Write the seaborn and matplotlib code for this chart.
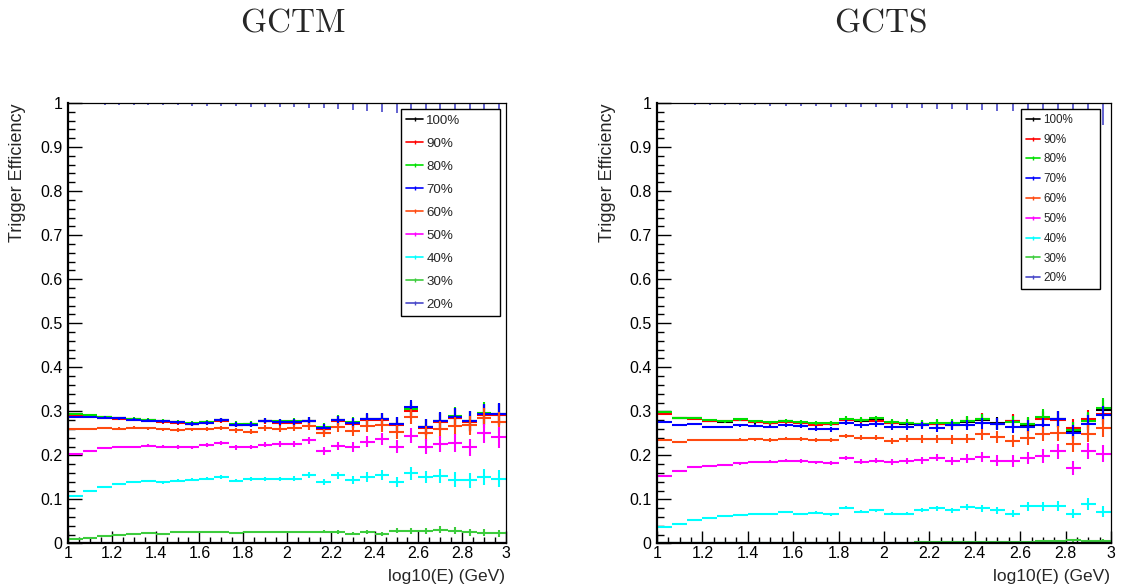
import matplotlib
matplotlib.use("Agg")
import matplotlib.pyplot as plt
import numpy as np
import seaborn as sns
from matplotlib.lines import Line2D
from matplotlib.ticker import MultipleLocator, FuncFormatter

sns.set_theme(style="white")
plt.rcParams["font.family"] = ["Liberation Sans", "DejaVu Sans"]
plt.rcParams["mathtext.fontset"] = "cm"

# binning of log10(E)
e_lo, e_hi, n_bins = 1.0, 3.0, 30

labels = ["100%", "90%", "80%", "70%", "60%", "50%", "40%", "30%", "20%"]
colors = ["#000000", "#ff0000", "#00e000", "#0000ff", "#ff4a10",
          "#ff00ff", "#00ffff", "#3ccc3c", "#4848c8"]

# GCTM efficiencies per bin
gctm_100 = [0.292, 0.290, 0.287, 0.284, 0.282, 0.280, 0.277, 0.275, 0.272, 0.275, 0.280, 0.270, 0.271, 0.278, 0.275,
            0.275, 0.278, 0.261, 0.280, 0.274, 0.282, 0.282, 0.271, 0.303, 0.264, 0.277, 0.286, 0.278, 0.294, 0.293]
gctm_90 = [0.290, 0.289, 0.286, 0.283, 0.281, 0.279, 0.276, 0.274, 0.271, 0.274, 0.279, 0.269, 0.270, 0.277, 0.274,
           0.274, 0.277, 0.260, 0.279, 0.272, 0.281, 0.281, 0.270, 0.300, 0.262, 0.276, 0.285, 0.276, 0.292, 0.291]
gctm_80 = [0.295, 0.292, 0.288, 0.285, 0.283, 0.281, 0.278, 0.276, 0.274, 0.276, 0.281, 0.272, 0.272, 0.279, 0.277,
           0.277, 0.279, 0.264, 0.281, 0.275, 0.283, 0.283, 0.272, 0.305, 0.265, 0.279, 0.289, 0.279, 0.297, 0.295]
gctm_70 = [0.287, 0.288, 0.286, 0.284, 0.281, 0.279, 0.277, 0.275, 0.272, 0.274, 0.281, 0.270, 0.270, 0.279, 0.275,
           0.276, 0.279, 0.262, 0.280, 0.274, 0.283, 0.282, 0.271, 0.309, 0.264, 0.278, 0.287, 0.278, 0.293, 0.294]
gctm_60 = [0.259, 0.260, 0.262, 0.261, 0.263, 0.262, 0.259, 0.258, 0.259, 0.260, 0.262, 0.257, 0.254, 0.262, 0.260,
           0.262, 0.266, 0.250, 0.264, 0.256, 0.267, 0.268, 0.253, 0.288, 0.250, 0.259, 0.266, 0.268, 0.285, 0.275]
gctm_50 = [0.203, 0.211, 0.216, 0.219, 0.219, 0.222, 0.220, 0.219, 0.218, 0.224, 0.229, 0.218, 0.219, 0.224, 0.226,
           0.225, 0.234, 0.210, 0.222, 0.219, 0.231, 0.238, 0.220, 0.245, 0.220, 0.226, 0.228, 0.218, 0.250, 0.241]
gctm_40 = [0.108, 0.119, 0.129, 0.135, 0.139, 0.142, 0.139, 0.143, 0.145, 0.147, 0.151, 0.143, 0.146, 0.146, 0.146,
           0.147, 0.156, 0.139, 0.155, 0.144, 0.151, 0.156, 0.139, 0.159, 0.151, 0.154, 0.145, 0.144, 0.150, 0.147]
gctm_30 = [0.010, 0.013, 0.017, 0.020, 0.022, 0.023, 0.022, 0.025, 0.026, 0.026, 0.027, 0.023, 0.026, 0.026, 0.027,
           0.026, 0.026, 0.027, 0.026, 0.022, 0.025, 0.022, 0.029, 0.028, 0.029, 0.031, 0.029, 0.025, 0.024, 0.023]
gctm_20 = [0.000, 0.000, 0.000, 0.000, 0.000, 0.000, 0.000, 0.000, 0.000, 0.000, 0.000, 0.000, 0.000, 0.000, 0.000,
           0.000, 0.000, 0.000, 0.000, 0.000, 0.000, 0.000, 0.000, 0.000, 0.000, 0.000, 0.000, 0.000, 0.002, 0.000]
gctm_counts = [60000, 45000, 35000, 28000, 22000, 18000, 15000, 12500, 10500, 9000, 8000, 7000, 6000, 5200, 4500,
               3800, 3000, 2300, 1900, 1500, 1200, 1000, 850, 700, 600, 520, 460, 420, 380, 340]
gctm_top = [0.003, 0.003, 0.004, 0.004, 0.004, 0.005, 0.005, 0.005, 0.006, 0.006, 0.007, 0.007, 0.008, 0.008, 0.009,
            0.010, 0.011, 0.012, 0.014, 0.016, 0.018, 0.020, 0.022, 0.024, 0.026, 0.028, 0.030, 0.032, 0.034, 0.036]

# GCTS efficiencies per bin
gcts_100 = [0.297, 0.285, 0.284, 0.278, 0.276, 0.281, 0.275, 0.273, 0.277, 0.273, 0.271, 0.271, 0.281, 0.279, 0.280,
            0.273, 0.272, 0.271, 0.271, 0.271, 0.276, 0.281, 0.273, 0.277, 0.270, 0.284, 0.282, 0.256, 0.277, 0.303]
gcts_90 = [0.295, 0.284, 0.283, 0.279, 0.277, 0.281, 0.276, 0.273, 0.276, 0.274, 0.270, 0.272, 0.280, 0.280, 0.279,
           0.273, 0.273, 0.270, 0.272, 0.270, 0.277, 0.283, 0.272, 0.279, 0.271, 0.282, 0.281, 0.263, 0.282, 0.293]
gcts_80 = [0.299, 0.286, 0.285, 0.280, 0.277, 0.282, 0.277, 0.275, 0.278, 0.276, 0.273, 0.273, 0.283, 0.281, 0.284,
           0.275, 0.274, 0.272, 0.273, 0.273, 0.277, 0.282, 0.271, 0.275, 0.272, 0.288, 0.283, 0.258, 0.279, 0.308]
gcts_70 = [0.275, 0.268, 0.271, 0.265, 0.265, 0.268, 0.267, 0.265, 0.268, 0.267, 0.261, 0.259, 0.274, 0.268, 0.271,
           0.265, 0.265, 0.268, 0.263, 0.268, 0.269, 0.273, 0.271, 0.265, 0.265, 0.268, 0.283, 0.250, 0.272, 0.291]
gcts_60 = [0.234, 0.231, 0.236, 0.235, 0.235, 0.236, 0.237, 0.235, 0.238, 0.237, 0.236, 0.235, 0.244, 0.240, 0.240,
           0.232, 0.238, 0.237, 0.237, 0.237, 0.238, 0.248, 0.242, 0.232, 0.240, 0.249, 0.250, 0.225, 0.249, 0.262]
gcts_50 = [0.153, 0.164, 0.173, 0.177, 0.179, 0.182, 0.185, 0.186, 0.188, 0.187, 0.184, 0.183, 0.194, 0.186, 0.188,
           0.185, 0.188, 0.189, 0.195, 0.187, 0.192, 0.197, 0.188, 0.187, 0.194, 0.199, 0.209, 0.172, 0.210, 0.204]
gcts_40 = [0.038, 0.044, 0.053, 0.059, 0.063, 0.065, 0.068, 0.068, 0.072, 0.067, 0.070, 0.066, 0.081, 0.072, 0.075,
           0.068, 0.068, 0.076, 0.080, 0.075, 0.082, 0.080, 0.075, 0.068, 0.084, 0.084, 0.085, 0.068, 0.090, 0.072]
gcts_30 = [0.001, 0.001, 0.001, 0.001, 0.001, 0.002, 0.002, 0.002, 0.002, 0.002, 0.002, 0.002, 0.002, 0.002, 0.002,
           0.002, 0.002, 0.003, 0.003, 0.003, 0.003, 0.003, 0.004, 0.004, 0.004, 0.005, 0.005, 0.007, 0.005, 0.006]
gcts_20 = [0.000, 0.000, 0.000, 0.000, 0.000, 0.000, 0.000, 0.000, 0.000, 0.000, 0.000, 0.000, 0.000, 0.000, 0.000,
           0.000, 0.000, 0.000, 0.000, 0.000, 0.000, 0.000, 0.000, 0.000, 0.000, 0.000, 0.000, 0.000, 0.000, 0.000]
gcts_counts = [70000, 50000, 38000, 30000, 24000, 20000, 16000, 13500, 11500, 10000, 8500, 7500, 6500, 5600, 4800,
               4000, 3300, 2700, 2200, 1800, 1500, 1250, 1050, 900, 780, 680, 600, 540, 490, 450]
gcts_top = [0.003, 0.003, 0.004, 0.004, 0.005, 0.005, 0.005, 0.006, 0.006, 0.007, 0.007, 0.008, 0.008, 0.009, 0.010,
            0.011, 0.011, 0.012, 0.013, 0.014, 0.015, 0.016, 0.017, 0.018, 0.019, 0.020, 0.021, 0.023, 0.025, 0.050]

edges = np.linspace(e_lo, e_hi, n_bins + 1)
centers = 0.5 * (edges[:-1] + edges[1:])
half_w = 0.5 * (edges[1] - edges[0])


def draw_panel(ax, series, counts, top_len, leg_box, leg_font, leg_space):
    n = np.array(counts, dtype=float)
    for vals, c in zip(series, colors):
        p = np.array(vals)
        err = np.sqrt(p * (1 - p) / n)
        ax.errorbar(centers, p, xerr=half_w, yerr=err, fmt="none",
                    ecolor=c, elinewidth=1.5, capsize=0)
    ax.vlines(centers, 1 - np.array(top_len), 1, color=colors[-1], lw=1.2)
    ax.set_xlim(e_lo, e_hi)
    ax.set_ylim(0, 1)
    ax.xaxis.set_major_locator(MultipleLocator(0.2))
    ax.xaxis.set_minor_locator(MultipleLocator(0.05))
    ax.yaxis.set_major_locator(MultipleLocator(0.1))
    ax.yaxis.set_minor_locator(MultipleLocator(0.02))
    fmt = FuncFormatter(lambda v, pos: f"{v:g}")
    ax.xaxis.set_major_formatter(fmt)
    ax.yaxis.set_major_formatter(fmt)
    ax.tick_params(which="both", direction="in", bottom=True, left=True,
                   top=False, right=False, colors="black", labelsize=11.5, width=1)
    ax.tick_params(axis="y", which="major", length=10, pad=4)
    ax.tick_params(axis="y", which="minor", length=5)
    ax.tick_params(axis="x", which="major", length=8.6, pad=2)
    ax.tick_params(axis="x", which="minor", length=4)
    for side in ["left", "bottom"]:
        ax.spines[side].set_linewidth(1.6)
        ax.spines[side].set_color("black")
    for side in ["top", "right"]:
        ax.spines[side].set_linewidth(0.9)
        ax.spines[side].set_color("black")
    handles = [Line2D([0], [0], color=c, lw=1.2, marker="|", ms=3, mew=1) for c in colors]
    leg = ax.legend(handles, labels, loc="upper left", bbox_to_anchor=leg_box, mode="expand",
                    fontsize=leg_font, labelspacing=leg_space, borderpad=0.4,
                    handlelength=1.25, handletextpad=0.25, borderaxespad=0,
                    fancybox=False, framealpha=1, edgecolor="black")
    leg.get_frame().set_linewidth(1.0)


fig = plt.figure(figsize=(11.23, 5.88), dpi=100)
ax1 = fig.add_axes([0.0606, 0.0757, 0.3900, 0.7491])
ax2 = fig.add_axes([0.5850, 0.0757, 0.4043, 0.7491])

draw_panel(ax1, [gctm_100, gctm_90, gctm_80, gctm_70, gctm_60, gctm_50, gctm_40, gctm_30, gctm_20],
           gctm_counts, gctm_top, (0.760, 0.5, 0.226, 0.486), 9.6, 0.8)
draw_panel(ax2, [gcts_100, gcts_90, gcts_80, gcts_70, gcts_60, gcts_50, gcts_40, gcts_30, gcts_20],
           gcts_counts, gcts_top, (0.802, 0.5, 0.174, 0.486), 8.4, 0.67)

fig.text(293 / 1123, 1 - 23 / 588, r"$\mathrm{GCTM}$", ha="center", va="center", fontsize=24)
fig.text(880 / 1123, 1 - 23 / 588, r"$\mathrm{GCTS}$", ha="center", va="center", fontsize=24)
fig.text(18 / 1123, 1 - 104 / 588, "Trigger Efficiency", rotation=90, ha="center", va="top", fontsize=13)
fig.text(608 / 1123, 1 - 104 / 588, "Trigger Efficiency", rotation=90, ha="center", va="top", fontsize=13)
fig.text(505 / 1123, 1 - 577 / 588, "log10(E) (GeV)", ha="right", va="center", fontsize=12.5)
fig.text(1110 / 1123, 1 - 577 / 588, "log10(E) (GeV)", ha="right", va="center", fontsize=12.5)

fig.savefig("out.png", dpi=100)
